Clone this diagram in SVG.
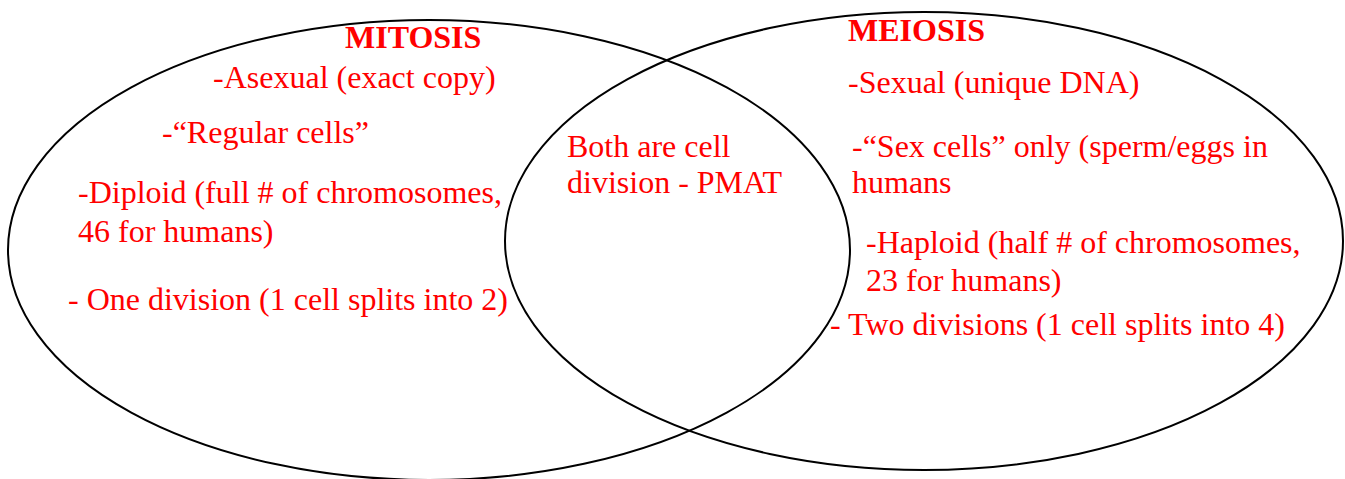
<svg xmlns="http://www.w3.org/2000/svg" width="1345" height="479" viewBox="0 0 1345 479">
<style>
.c{fill:none;stroke:#000;stroke-width:2}
.t{font-family:"Liberation Serif","Times New Roman",serif;font-size:32px;fill:#ff0000}
.h{font-family:"Liberation Serif","Times New Roman",serif;font-size:32px;font-weight:bold;fill:#ff0000}
</style>
<rect width="1345" height="479" fill="#fff"/>
<g id="connectors"></g>
<g id="mitosis">
<ellipse class="c" cx="429" cy="250" rx="421" ry="230"/>
<text class="h" x="345" y="48">MITOSIS</text>
<text class="t" x="213" y="88">-Asexual (exact copy)</text>
<text class="t" x="162" y="143">-“Regular cells”</text>
<text class="t" x="78" y="203">-Diploid (full # of chromosomes,</text>
<text class="t" x="78" y="242">46 for humans)</text>
<text class="t" x="68" y="310">- One division (1 cell splits into 2)</text>
</g>
<g id="meiosis">
<ellipse class="c" cx="924" cy="241" rx="419" ry="229"/>
<text class="h" x="848" y="41">MEIOSIS</text>
<text class="t" x="848" y="93">-Sexual (unique DNA)</text>
<text class="t" x="852" y="157">-“Sex cells” only (sperm/eggs in</text>
<text class="t" x="852" y="193">humans</text>
<text class="t" x="866" y="253">-Haploid (half # of chromosomes,</text>
<text class="t" x="866" y="291">23 for humans)</text>
<text class="t" x="830" y="335">- Two divisions (1 cell splits into 4)</text>
</g>
<g id="both">
<text class="t" x="567" y="157">Both are cell</text>
<text class="t" x="567" y="193">division - PMAT</text>
</g>
</svg>
